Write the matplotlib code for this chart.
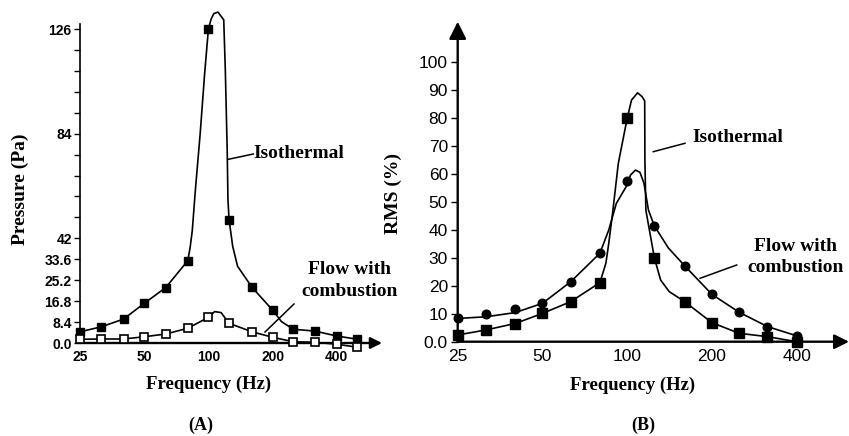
import numpy as np
import matplotlib
matplotlib.use("Agg")
import matplotlib.pyplot as plt
from matplotlib.lines import Line2D

# ------------------- DATA -------------------

freq_bands = [25, 31.5, 40, 50, 63, 80, 100, 125, 160, 200, 250, 315, 400, 500]
x_tick_vals = [25, 50, 100, 200, 400]

# panel A: pressure (Pa)
a_iso_marks = [4.5, 6.5, 9.6, 15.9, 22.2, 33.0, 126.0, 49.5, 22.4, 13.2, 5.5, 4.8, 2.8, 1.5]
a_comb_marks = [1.5, 1.6, 1.6, 2.5, 3.6, 5.9, 10.3, 7.9, 4.5, 2.3, 0.5, 0.3, -0.5, -1.7]

a_iso_line_f = [25, 31.5, 40, 50, 63, 80, 82, 84, 87, 91.5, 96, 100, 103, 106, 111, 116.5,
                118, 120, 122.5, 123.5, 125, 130, 137, 160, 200, 220, 250, 315, 400, 500]
a_iso_line_v = [4.5, 6.5, 9.6, 15.9, 22.2, 33.0, 38, 45, 62, 84, 108, 126, 130, 132.2, 132.8, 130.3,
                129.7, 110, 77.5, 57.4, 49.5, 38.8, 30.8, 22.4, 13.2, 8.6, 5.5, 4.8, 2.8, 1.5]

a_comb_line_f = [25, 31.5, 40, 50, 63, 80, 100, 107, 114.7, 125, 160, 200, 250, 315, 400, 500]
a_comb_line_v = [1.5, 1.6, 1.6, 2.5, 3.6, 5.9, 10.3, 12.6, 12.2, 7.9, 4.5, 2.3, 0.5, 0.3, -0.5, -1.7]

a_y_labelled = [0.0, 8.4, 16.8, 25.2, 33.6, 42, 84, 126]
a_y_ticks = [8.4 * k for k in range(16)]

# panel B: RMS (%)
b_freq = [25, 31.5, 40, 50, 63, 80, 100, 125, 160, 200, 250, 315, 400]
b_iso_marks = [2.4, 4.2, 6.5, 10.1, 14.3, 21.1, 79.8, 29.8, 14.3, 6.8, 3.0, 1.8, 0.0]
b_comb_marks = [8.3, 9.9, 11.7, 13.7, 21.4, 31.6, 57.5, 41.3, 27.1, 16.9, 10.5, 5.4, 2.1]

b_iso_line_f = [25, 31.5, 40, 50, 63, 80, 84, 86, 89, 93, 100, 103.6, 108.9, 113,
                115.4, 115.6, 116.5, 120.5, 125, 131.5, 141, 160, 200, 250, 315, 400]
b_iso_line_v = [2.4, 4.2, 6.5, 10.1, 14.3, 21.1, 28, 35.1, 47, 63.7, 79.8, 86.3, 88.9, 87.5,
                86, 65, 47, 38.7, 29.8, 22, 17.9, 14.3, 6.8, 3.0, 1.8, 0.0]

b_comb_line_f = [25, 31.5, 40, 50, 63, 80, 86, 91.5, 100, 102.7, 107, 111, 114.7, 119, 125,
                 140, 160, 200, 250, 315, 400]
b_comb_line_v = [8.3, 8.9, 10.4, 13.7, 21.4, 31.6, 39.9, 49.4, 56, 59.5, 61.3, 60.5, 56.6, 47, 41.3,
                 33.5, 27.1, 16.9, 10.5, 5.4, 2.1]

b_y_ticks = [0, 10, 20, 30, 40, 50, 60, 70, 80, 90, 100]

# ------------------- LAYOUT -------------------

W, H = 849, 436
SERIF = "Liberation Serif"
SANS = "Liberation Sans"


def fx(px):
    return px / W


def fy(py):
    return 1 - py / H


def axes_from_px(fig, left, right, top, bottom):
    return fig.add_axes([fx(left), fy(bottom), fx(right) - fx(left), fy(top) - fy(bottom)])


def leader(fig, x0, y0, x1, y1):
    fig.add_artist(Line2D([fx(x0), fx(x1)], [fy(y0), fy(y1)], color="black", lw=1.1))


def axis_arrow(ax, start, end, scale):
    ax.annotate("", xy=end, xytext=start, xycoords="axes fraction",
                arrowprops=dict(arrowstyle="-|>", color="black", lw=1.7,
                                mutation_scale=scale, shrinkA=0, shrinkB=0),
                annotation_clip=False)


def style_axes(ax):
    for s in ["top", "right", "bottom"]:
        ax.spines[s].set_visible(False)
    ax.set_xscale("log")
    ax.minorticks_off()
    ax.set_xticks(x_tick_vals)
    ax.set_xticklabels([str(v) for v in x_tick_vals])
    ax.tick_params(axis="x", length=0, pad=5)
    ax.patch.set_alpha(0)


fig = plt.figure(figsize=(W / 100, H / 100), dpi=100)

# ---------- panel A ----------
ax_a = axes_from_px(fig, 80, 382, 9.1, 343)
style_axes(ax_a)
ax_a.set_xlim(25, 651.6)
ax_a.set_ylim(0, 134)
ax_a.spines["left"].set_bounds(0, 128)
ax_a.spines["left"].set_linewidth(1.2)
ax_a.set_yticks(a_y_ticks)
a_labels = []
for v in a_y_ticks:
    if v == 0:
        a_labels.append("0.0")
    elif any(abs(v - l) < 1e-6 for l in a_y_labelled):
        a_labels.append("%g" % round(v, 1))
    else:
        a_labels.append("")
ax_a.set_yticklabels(a_labels)
ax_a.tick_params(axis="y", length=4, width=1, pad=2)
for t in ax_a.get_yticklabels() + ax_a.get_xticklabels():
    t.set_fontfamily(SANS)
    t.set_fontweight("bold")
    t.set_fontsize(10)

ax_a.plot(a_iso_line_f, a_iso_line_v, color="black", lw=1.2, clip_on=False)
ax_a.plot(a_comb_line_f, a_comb_line_v, color="black", lw=1.2, clip_on=False)
ax_a.plot(freq_bands, a_iso_marks, ls="none", marker="s", ms=6.3, mfc="black",
          mec="black", clip_on=False, zorder=4)
ax_a.plot(freq_bands, a_comb_marks, ls="none", marker="s", ms=6.0, mfc="white",
          mec="black", mew=1.2, clip_on=False, zorder=4)
axis_arrow(ax_a, (0, 0), (1, 0), 17)

# ---------- panel B ----------
ax_b = axes_from_px(fig, 457.7, 849, 21.7, 341.7)
style_axes(ax_b)
ax_b.set_xlim(25, 613.7)
ax_b.set_ylim(0, 114.3)
ax_b.spines["left"].set_visible(False)
ax_b.set_yticks(b_y_ticks)
ax_b.set_yticklabels(["0.0"] + [str(v) for v in b_y_ticks[1:]])
ax_b.tick_params(axis="y", length=5, width=1, pad=2)
for t in ax_b.get_yticklabels() + ax_b.get_xticklabels():
    t.set_fontfamily(SANS)
    t.set_fontsize(12.5)

ax_b.plot(b_iso_line_f, b_iso_line_v, color="black", lw=1.2, clip_on=False)
ax_b.plot(b_comb_line_f, b_comb_line_v, color="black", lw=1.2, clip_on=False)
ax_b.plot(b_freq, b_iso_marks, ls="none", marker="s", ms=7.2, color="black",
          clip_on=False, zorder=4)
ax_b.plot(b_freq, b_comb_marks, ls="none", marker="o", ms=6.2, color="black",
          clip_on=False, zorder=4)
axis_arrow(ax_b, (0, 0), (1, 0), 22)
axis_arrow(ax_b, (0, 0), (0, 1), 26)

# ---------- text ----------
lab = dict(fontfamily=SERIF, fontweight="bold", color="black")
fig.text(fx(20), fy(189), "Pressure (Pa)", rotation=90, ha="center", va="center", fontsize=14, **lab)
fig.text(fx(393), fy(193), "RMS (%)", rotation=90, ha="center", va="center", fontsize=14, **lab)
fig.text(fx(209), fy(384), "Frequency (Hz)", ha="center", va="center", fontsize=13.5, **lab)
fig.text(fx(633), fy(385), "Frequency (Hz)", ha="center", va="center", fontsize=13.5, **lab)
fig.text(fx(201), fy(425), "(A)", ha="center", va="center", fontsize=13, **lab)
fig.text(fx(643), fy(425), "(B)", ha="center", va="center", fontsize=13, **lab)

fig.text(fx(253), fy(153), "Isothermal", ha="left", va="center", fontsize=14, **lab)
fig.text(fx(350), fy(280.5), "Flow with\ncombustion", ha="center", va="center",
         multialignment="center", fontsize=14, linespacing=1.35, **lab)
fig.text(fx(692), fy(138), "Isothermal", ha="left", va="center", fontsize=14, **lab)
fig.text(fx(796), fy(257), "Flow with\ncombustion", ha="center", va="center",
         multialignment="center", fontsize=14, linespacing=1.35, **lab)

leader(fig, 228.3, 159.3, 253.3, 154)
leader(fig, 265, 332, 294, 304)
leader(fig, 653.3, 151.7, 685, 143.3)
leader(fig, 700, 278.3, 736.7, 265)

fig.savefig("out.png", dpi=100, facecolor="white")
